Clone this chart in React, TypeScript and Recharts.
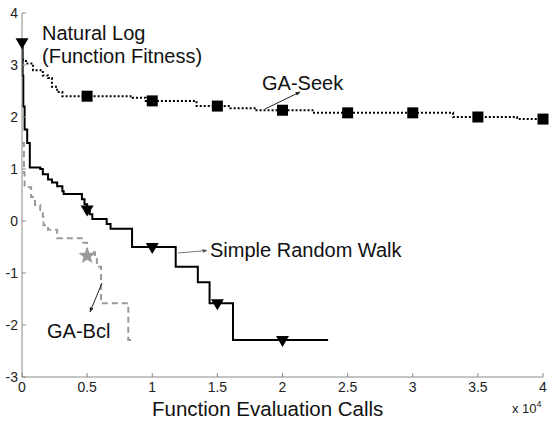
import { ComposedChart, Line, Scatter, XAxis, YAxis } from 'recharts';

// x = function evaluation calls, y = natural log of function fitness
const xTicks = [0, 5000, 10000, 15000, 20000, 25000, 30000, 35000, 40000];
const yTicks = [-3, -2, -1, 0, 1, 2, 3, 4];

const gaSeek: [number, number][] = [
  [0, 3.1], [300, 3.03], [850, 2.9], [1600, 2.8], [2000, 2.75], [2300, 2.58],
  [2700, 2.48], [3100, 2.4], [8500, 2.37], [9500, 2.31], [13400, 2.21],
  [16000, 2.17], [18000, 2.13], [22300, 2.08], [33100, 2.0], [38000, 1.96],
  [40000, 1.96],
];
const gaSeekMarks: [number, number][] = [
  [5000, 2.4], [10000, 2.31], [15000, 2.21], [20000, 2.13], [25000, 2.08],
  [30000, 2.08], [35000, 2.0], [40000, 1.96],
];

const randomWalk: [number, number][] = [
  [0, 3.4], [50, 2.8], [100, 2.2], [200, 1.76], [400, 1.5], [600, 1.03],
  [1400, 1.0], [1600, 0.9], [2000, 0.8], [2300, 0.74], [2700, 0.67],
  [3100, 0.57], [3200, 0.52], [4600, 0.42], [4800, 0.32], [5000, 0.22],
  [5200, 0.13], [5400, 0.04], [6500, -0.06], [6800, -0.15], [8450, -0.5],
  [11800, -0.88], [13500, -1.18], [14400, -1.58], [16200, -2.29], [23500, -2.29],
];
const randomWalkMarks: [number, number][] = [
  [0, 3.42], [5000, 0.2], [10000, -0.52], [15000, -1.6], [20000, -2.31],
];

const gaBcl: [number, number][] = [
  [0, 1.5], [150, 0.93], [200, 0.65], [700, 0.46], [1000, 0.31], [1400, 0.21],
  [1600, 0.08], [1650, -0.08], [2000, -0.17], [2700, -0.33], [4700, -0.42],
  [5000, -0.6], [5600, -0.71], [5750, -0.88], [6070, -1.58], [8160, -2.29],
  [8550, -2.29],
];
const gaBclMarks: [number, number][] = [[5000, -0.67]];

const toPoints = (arr: [number, number][]) => arr.map(([x, y]) => ({ x, y }));

const axisGray = '#8a8a8a';
const font = '"Liberation Sans", Arial, sans-serif';

function XTick(props: any) {
  const { x, y, payload } = props;
  return (
    <g>
      <line x1={x} x2={x} y1={y} y2={y - 4} stroke={axisGray} />
      <text x={x} y={y + 15} textAnchor="middle" fontSize={14} fontFamily={font} fill="#222">
        {payload.value / 10000}
      </text>
    </g>
  );
}

function YTick(props: any) {
  const { x, y, payload } = props;
  return (
    <g>
      <line x1={x} x2={x + 4} y1={y} y2={y} stroke={axisGray} />
      <text x={x - 4} y={y + 5} textAnchor="end" fontSize={14} fontFamily={font} fill="#222">
        {payload.value}
      </text>
    </g>
  );
}

function Square(props: any) {
  const { cx, cy } = props;
  return <rect x={cx - 5.5} y={cy - 5.5} width={11} height={11} fill="#000" />;
}

function TriangleDown(props: any) {
  const { cx, cy } = props;
  return <polygon points={`${cx - 6.5},${cy - 5} ${cx + 6.5},${cy - 5} ${cx},${cy + 6}`} fill="#000" />;
}

function Star(props: any) {
  const { cx, cy } = props;
  const pts: string[] = [];
  for (let i = 0; i < 10; i++) {
    const r = i % 2 === 0 ? 9 : 3.8;
    const a = -Math.PI / 2 + (i * Math.PI) / 5;
    pts.push(`${cx + r * Math.cos(a)},${cy + r * Math.sin(a)}`);
  }
  return <polygon points={pts.join(' ')} fill="#9a9a9a" />;
}

export default function App() {
  return (
    <div style={{ position: 'absolute', left: 0, top: 0, width: 550, height: 421, background: '#fff' }}>
      <ComposedChart width={550} height={421} margin={{ top: 13, right: 7, bottom: 43, left: 21 }}>
        <XAxis
          type="number"
          dataKey="x"
          domain={[0, 40000]}
          ticks={xTicks}
          height={1}
          tickSize={0}
          tickMargin={0}
          tickLine={false}
          axisLine={{ stroke: axisGray }}
          tick={<XTick />}
          interval={0}
        />
        <YAxis
          type="number"
          dataKey="y"
          domain={[-3, 4]}
          ticks={yTicks}
          width={1}
          tickSize={0}
          tickMargin={0}
          tickLine={false}
          axisLine={{ stroke: axisGray }}
          tick={<YTick />}
          interval={0}
        />
        <Line
          data={toPoints(gaBcl)}
          dataKey="y"
          type="stepAfter"
          stroke="#9a9a9a"
          strokeWidth={2}
          strokeDasharray="6 4"
          dot={false}
          isAnimationActive={false}
        />
        <Line
          data={toPoints(gaSeek)}
          dataKey="y"
          type="stepAfter"
          stroke="#000"
          strokeWidth={2}
          strokeDasharray="2 2"
          dot={false}
          isAnimationActive={false}
        />
        <Line
          data={toPoints(randomWalk)}
          dataKey="y"
          type="stepAfter"
          stroke="#000"
          strokeWidth={2}
          dot={false}
          isAnimationActive={false}
        />
        <Scatter data={toPoints(gaSeekMarks)} dataKey="y" shape={<Square />} isAnimationActive={false} />
        <Scatter data={toPoints(randomWalkMarks)} dataKey="y" shape={<TriangleDown />} isAnimationActive={false} />
        <Scatter data={toPoints(gaBclMarks)} dataKey="y" shape={<Star />} isAnimationActive={false} />
      </ComposedChart>
      <svg
        width={550}
        height={421}
        style={{ position: 'absolute', left: 0, top: 0, pointerEvents: 'none' }}
        fontFamily={font}
      >
        <defs>
          <marker id="ah" viewBox="0 0 10 10" refX="9" refY="5" markerWidth="5" markerHeight="5" orient="auto">
            <path d="M0,1 L10,5 L0,9 z" fill="#222" />
          </marker>
          <marker id="ahg" viewBox="0 0 10 10" refX="9" refY="5" markerWidth="5" markerHeight="5" orient="auto">
            <path d="M0,1 L10,5 L0,9 z" fill="#555" />
          </marker>
        </defs>
        <text x={42} y={39.5} fontSize={20} fill="#111">Natural Log</text>
        <text x={42} y={63} fontSize={20} fill="#111">(Function Fitness)</text>
        <text x={262} y={90} fontSize={20} fill="#111">GA-Seek</text>
        <line x1={265} y1={109} x2={300} y2={92} stroke="#222" strokeWidth={1} markerEnd="url(#ah)" />
        <text x={210} y={257} fontSize={20} fill="#111">Simple Random Walk</text>
        <line x1={178} y1={253} x2={207} y2={250.5} stroke="#777" strokeWidth={1} markerEnd="url(#ahg)" />
        <text x={47} y={338} fontSize={20} fill="#111">GA-Bcl</text>
        <line x1={102} y1={283} x2={90} y2={312} stroke="#222" strokeWidth={1} markerEnd="url(#ah)" />
        <text x={152} y={416} fontSize={20.5} fill="#111">Function Evaluation Calls</text>
        <text x={512} y={413} fontSize={13} fill="#222">
          x 10<tspan dy={-6} fontSize={9}>4</tspan>
        </text>
      </svg>
    </div>
  );
}
